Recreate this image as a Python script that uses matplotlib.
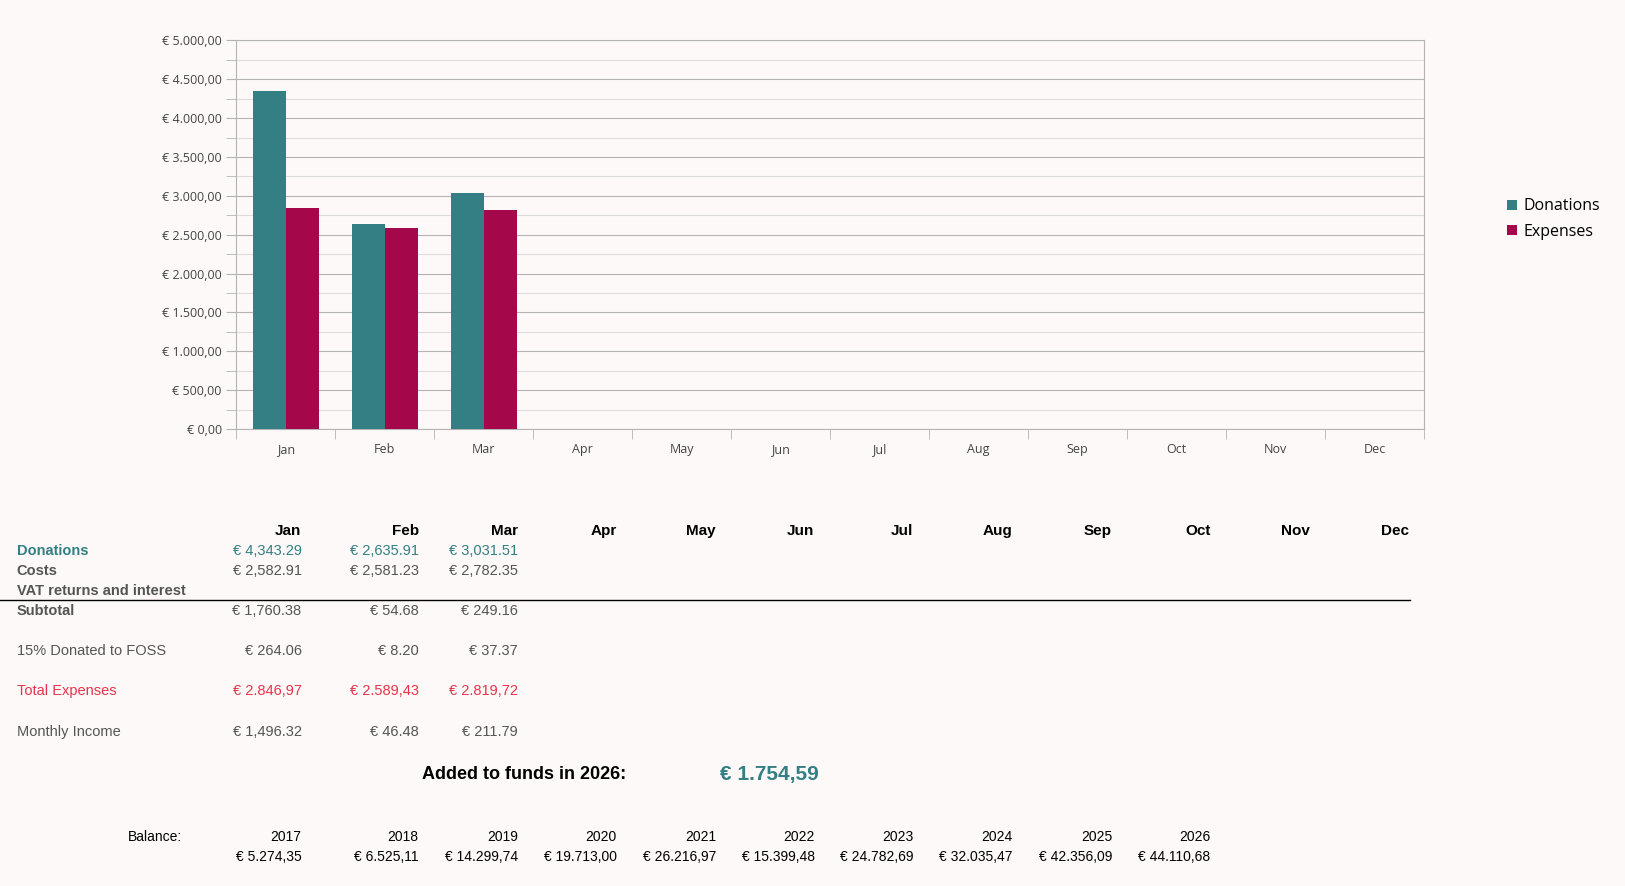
import matplotlib.pyplot as plt
import numpy as np

months = ["Jan", "Feb", "Mar", "Apr", "May", "Jun", "Jul", "Aug", "Sep", "Oct", "Nov", "Dec"]
donations = [4343.29, 2635.91, 3031.51]
expenses = [2846.97, 2589.43, 2819.72]

costs = ["€ 2,582.91", "€ 2,581.23", "€ 2,782.35"]
donations_txt = ["€ 4,343.29", "€ 2,635.91", "€ 3,031.51"]
subtotal = ["€ 1,760.38", "€ 54.68", "€ 249.16"]
foss = ["€ 264.06", "€ 8.20", "€ 37.37"]
total_exp = ["€ 2.846,97", "€ 2.589,43", "€ 2.819,72"]
monthly = ["€ 1,496.32", "€ 46.48", "€ 211.79"]
years = ["2017", "2018", "2019", "2020", "2021", "2022", "2023", "2024", "2025", "2026"]
balances = ["€ 5.274,35", "€ 6.525,11", "€ 14.299,74", "€ 19.713,00", "€ 26.216,97",
            "€ 15.399,48", "€ 24.782,69", "€ 32.035,47", "€ 42.356,09", "€ 44.110,68"]

BG = "#fdf9f8"
TEAL = "#337f84"
WINE = "#a4074a"
GRAY = "#555555"
RED = "#e8334b"

# layout coordinates below are measured on a 1568x855 view of the target
W, H = 1568, 855
fig = plt.figure(figsize=(16.25, 8.86), dpi=100, facecolor=BG)
plt.rcParams["font.family"] = ["Liberation Sans", "DejaVu Sans"]

def px(x, y):
    return x / W, 1 - y / H

ax = fig.add_axes([228 / W, 1 - 414 / H, 1146 / W, 375 / H], facecolor=BG)
x = np.arange(len(donations))
bw = 0.335
ax.bar(x - bw / 2, donations, bw, color=TEAL, label="Donations", zorder=3)
ax.bar(x + bw / 2, expenses, bw, color=WINE, label="Expenses", zorder=3)
ax.set_xlim(-0.5, 11.5)
ax.set_ylim(0, 5000)
ax.set_yticks(np.arange(0, 5001, 500))
ax.set_yticks(np.arange(250, 5000, 500), minor=True)
ax.set_yticklabels([f"€ {v:,.2f}".replace(",", "X").replace(".", ",").replace("X", ".") for v in np.arange(0, 5001, 500)],
                   fontsize=9, color="#444444", family="Open Sans")
ax.grid(axis="y", which="major", color="#b3b3b3", lw=0.8, zorder=0)
ax.grid(axis="y", which="minor", color="#dddddd", lw=0.8, zorder=0)
ax.set_xticks(np.arange(12))
ax.set_xticklabels(months, fontsize=9, color="#444444", family="Open Sans")
ax.set_xticks(np.arange(-0.5, 12, 1), minor=True)
ax.tick_params(axis="x", which="major", length=0, pad=10)
ax.tick_params(axis="x", which="minor", length=7, color="#b3b3b3")
ax.tick_params(axis="y", which="both", length=7, color="#b3b3b3")
for s in ax.spines.values():
    s.set_color("#b3b3b3")
ax.legend(loc="center left", bbox_to_anchor=(1.058, 0.54), frameon=False,
          handlelength=0.6, handleheight=0.6, handletextpad=0.4, labelspacing=0.6,
          prop={"family": "Open Sans", "size": 11.5})

# table
col_x = [291, 404, 500, 595, 691, 786, 881, 977, 1073, 1168, 1264, 1360]
for cx, m in zip(col_x, months):
    fig.text(*px(cx, 512), m, ha="right", va="center", fontsize=11, fontweight="bold")

rows = [
    (532, "Donations", donations_txt, TEAL, True),
    (551, "Costs", costs, GRAY, True),
    (570, "VAT returns and interest", None, GRAY, True),
    (590, "Subtotal", subtotal, GRAY, True),
    (628, "15% Donated to FOSS", foss, GRAY, False),
    (667, "Total Expenses", total_exp, RED, False),
    (706, "Monthly Income", monthly, GRAY, False),
]
for y, label, vals, col, bold in rows:
    fig.text(*px(16, y), label, ha="left", va="center", fontsize=10.5, color=col,
             fontweight="bold" if bold else "normal")
    if vals:
        for cx, v in zip(col_x, vals):
            fig.text(*px(cx, y), v, ha="right", va="center", fontsize=10.5, color=col)
fig.add_artist(plt.Line2D([0, 1361 / W], [1 - 579 / H] * 2, color="black", lw=1))

fig.text(*px(604, 747), "Added to funds in 2026:", ha="right", va="center", fontsize=13, fontweight="bold")
fig.text(*px(790, 747), "€ 1.754,59", ha="right", va="center", fontsize=15, fontweight="bold", color=TEAL)

fig.text(*px(176, 808), "Balance:", ha="right", va="center", fontsize=10)
for cx, yr, b in zip(col_x, years, balances):
    fig.text(*px(cx, 808), yr, ha="right", va="center", fontsize=10)
    fig.text(*px(cx, 827), b, ha="right", va="center", fontsize=10)

fig.savefig("out.png", dpi=100, facecolor=BG)
